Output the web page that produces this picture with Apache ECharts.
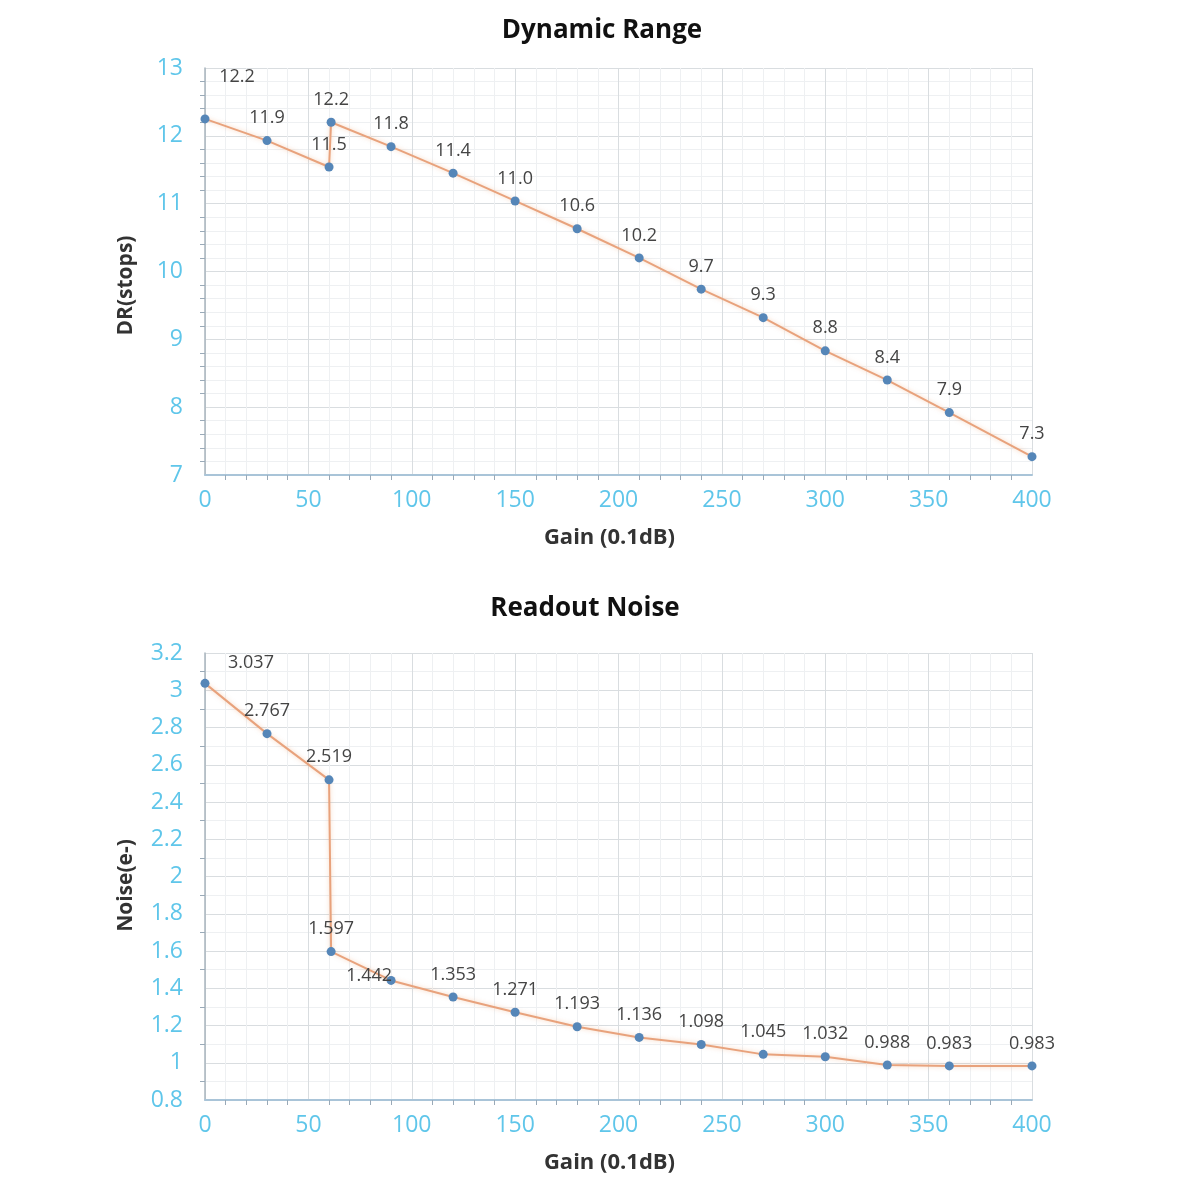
<!DOCTYPE html>
<html><head><meta charset="utf-8">
<script src="https://cdn.jsdelivr.net/npm/echarts@6/dist/echarts.min.js"></script>
<style>html,body{margin:0;padding:0;background:#fff}#c{width:1200px;height:1200px}</style>
</head><body><div id="c"></div>
<script>
// Dynamic Range data
const drGain = [0, 30, 60, 61, 90, 120, 150, 180, 210, 240, 270, 300, 330, 360, 400];
const drValues = [12.25, 11.93, 11.54, 12.2, 11.84, 11.45, 11.04, 10.63, 10.2, 9.74, 9.32, 8.83, 8.4, 7.92, 7.27];
const drLabels = ["12.2", "11.9", "11.5", "12.2", "11.8", "11.4", "11.0", "10.6", "10.2", "9.7", "9.3", "8.8", "8.4", "7.9", "7.3"];
// Readout noise data
const rnGain = [0, 30, 60, 61, 90, 120, 150, 180, 210, 240, 270, 300, 330, 360, 400];
const rnValues = [3.037, 2.767, 2.519, 1.597, 1.442, 1.353, 1.271, 1.193, 1.136, 1.098, 1.045, 1.032, 0.988, 0.983, 0.983];
const rnLabels = ["3.037", "2.767", "2.519", "1.597", "1.442", "1.353", "1.271", "1.193", "1.136", "1.098", "1.045", "1.032", "0.988", "0.983", "0.983"];
const xTicks = [0, 50, 100, 150, 200, 250, 300, 350, 400];

const font = '"Open Sans", "Noto Sans", sans-serif';
const lineColor = '#e8a27c';
const dotColor = '#5586b8';

function mkData(xs, ys, labs, special) {
  return xs.map((x, i) => {
    const d = { value: [x, ys[i]], lab: labs[i] };
    if (special[i]) d.label = special[i];
    return d;
  });
}

const xAxisBase = (gi) => ({
  type: 'value', gridIndex: gi, min: 0, max: 400, interval: 50,
  name: 'Gain (0.1dB)', nameLocation: 'middle', nameGap: 52,
  nameTextStyle: { color: '#333', fontSize: 22, fontWeight: 'bold', fontFamily: font, padding: [0, 18, 0, 0] },
  axisLine: { show: true, lineStyle: { color: '#a9c4d8', width: 2 } },
  axisTick: { show: false },
  minorTick: { show: true, splitNumber: 5, length: 5, lineStyle: { color: '#9aaab8' } },
  axisLabel: { color: '#5fc6ea', fontSize: 23, fontFamily: font, margin: 14 },
  splitLine: { show: true, lineStyle: { color: '#d9dde0', width: 1 } },
  minorSplitLine: { show: true, lineStyle: { color: '#eef0f2', width: 1 } }
});

const option = {
  animation: false,
  backgroundColor: '#fff',
  title: [
    { text: 'Dynamic Range', left: 597, top: 13, textAlign: 'center',
      textStyle: { fontSize: 26, fontWeight: 'bold', color: '#111', fontFamily: font } },
    { text: 'Readout Noise', left: 580, top: 591, textAlign: 'center',
      textStyle: { fontSize: 26, fontWeight: 'bold', color: '#111', fontFamily: font } }
  ],
  grid: [
    { left: 205, right: 168, top: 68, height: 407 },
    { left: 205, right: 168, top: 653, height: 447 }
  ],
  xAxis: [xAxisBase(0), xAxisBase(1)],
  yAxis: [
    { type: 'value', gridIndex: 0, min: 7, max: 13, interval: 1,
      name: 'DR(stops)', nameLocation: 'middle', nameGap: 68, nameRotate: 90,
      nameTextStyle: { color: '#333', fontSize: 21, fontWeight: 'bold', fontFamily: font, padding: [0, 28, 0, 0] },
      axisLine: { show: true, lineStyle: { color: '#a9b4be', width: 1.5 } },
      axisTick: { show: false },
      minorTick: { show: true, splitNumber: 5, length: 5, lineStyle: { color: '#9aaab8' } },
      axisLabel: { color: '#5fc6ea', fontSize: 23, fontFamily: font, margin: 22 },
      splitLine: { show: true, lineStyle: { color: '#d9dde0' } },
      minorSplitLine: { show: true, lineStyle: { color: '#eef0f2' } } },
    { type: 'value', gridIndex: 1, min: 0.8, max: 3.2, interval: 0.2,
      name: 'Noise(e-)', nameLocation: 'middle', nameGap: 68, nameRotate: 90,
      nameTextStyle: { color: '#333', fontSize: 21, fontWeight: 'bold', fontFamily: font, padding: [0, 18, 0, 0] },
      axisLine: { show: true, lineStyle: { color: '#a9b4be', width: 1.5 } },
      axisTick: { show: false },
      minorTick: { show: true, splitNumber: 2, length: 5, lineStyle: { color: '#9aaab8' } },
      axisLabel: { color: '#5fc6ea', fontSize: 23, fontFamily: font, margin: 22,
        formatter: v => String(Math.round(v * 10) / 10) },
      splitLine: { show: true, lineStyle: { color: '#d9dde0' } },
      minorSplitLine: { show: true, lineStyle: { color: '#eef0f2' } } }
  ],
  series: [
    { type: 'line', xAxisIndex: 0, yAxisIndex: 0,
      data: mkData(drGain, drValues, drLabels, { 0: { offset: [32, -20] } }),
      symbol: 'circle', symbolSize: 9,
      itemStyle: { color: dotColor },
      lineStyle: { color: lineColor, width: 2, shadowColor: 'rgba(240,170,120,0.5)', shadowBlur: 4 },
      label: { show: true, position: 'top', distance: 9, color: '#444', fontSize: 18, fontFamily: font,
        formatter: p => p.data.lab } },
    { type: 'line', xAxisIndex: 1, yAxisIndex: 1,
      data: mkData(rnGain, rnValues, rnLabels, { 0: { offset: [46, 2] }, 4: { offset: [-22, 18] } }),
      symbol: 'circle', symbolSize: 9,
      itemStyle: { color: dotColor },
      lineStyle: { color: lineColor, width: 2, shadowColor: 'rgba(240,170,120,0.5)', shadowBlur: 4 },
      label: { show: true, position: 'top', distance: 9, color: '#444', fontSize: 18, fontFamily: font,
        formatter: p => p.data.lab } }
  ]
};
echarts.init(document.getElementById('c')).setOption(option);
</script></body></html>
